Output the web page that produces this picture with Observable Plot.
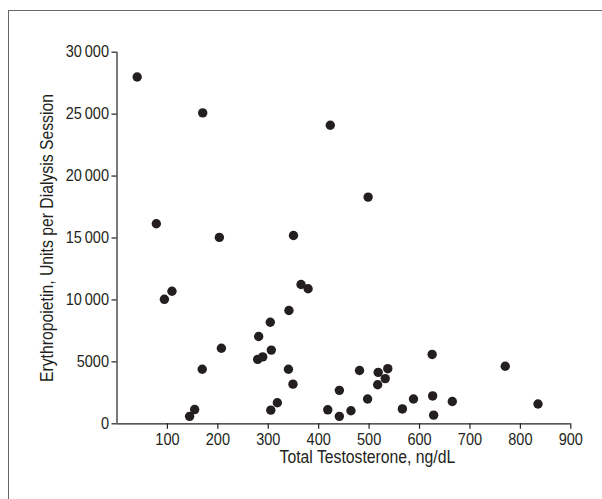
<!DOCTYPE html>
<html>
<head>
<meta charset="utf-8">
<script src="https://cdn.jsdelivr.net/npm/d3@7"></script>
<script src="https://cdn.jsdelivr.net/npm/@observablehq/plot@0.6"></script>
<style>
  html, body { margin: 0; padding: 0; background: #fff; }
  #wrap { position: relative; width: 602px; height: 499px; overflow: hidden; }
  #frame { position: absolute; left: 7.5px; top: 9.5px; width: 700px; height: 600px;
           border-left: 1.8px solid #666; border-top: 1.8px solid #666; pointer-events: none; }
</style>
</head>
<body>
<div id="wrap"><div id="frame"></div><div id="chart"></div></div>
<script>
// Total testosterone (ng/dL)
const testosterone = [40, 170, 423, 498, 78, 203, 350,
  94, 109, 365, 379, 341, 304, 281, 207, 306, 279, 289, 169, 340, 349, 318, 305, 154, 144, 441, 418, 441,
  481, 518, 537, 532, 517, 497, 464, 566, 588, 625, 626, 628, 665, 770, 835];
// Erythropoietin (units per dialysis session)
const erythropoietin = [28000, 25100, 24100, 18300, 16150, 15050, 15200,
  10050, 10700, 11250, 10900, 9150, 8200, 7050, 6100, 5950, 5200, 5400, 4400, 4400, 3200, 1700, 1100, 1150, 600, 2700, 1130, 600,
  4300, 4150, 4450, 3650, 3150, 2000, 1050, 1200, 2000, 5600, 2250, 700, 1800, 4650, 1600];
const xTicks = [100, 200, 300, 400, 500, 600, 700, 800, 900];
const yTicks = [0, 5000, 10000, 15000, 20000, 25000, 30000];
const xLabel = "Total Testosterone, ng/dL";
const yLabel = "Erythropoietin, Units per Dialysis Session";

const data = testosterone.map((t, i) => ({t, e: erythropoietin[i]}));
const fmt = d => d >= 10000 ? d3.format(",")(d).replace(",", "\u2009") : String(d);
const ink = "#231f20";

const chart = Plot.plot({
  width: 602,
  height: 499,
  marginLeft: 116.5,
  marginRight: 31.7,
  marginTop: 51.7,
  marginBottom: 75.7,
  style: {fontFamily: "'Liberation Sans', Arial, sans-serif", fontSize: "16.5px", color: ink, background: "transparent"},
  x: {domain: [0, 900]},
  y: {domain: [0, 30000]},
  marks: [
    Plot.ruleY([0], {stroke: ink, strokeWidth: 1.2}),
    Plot.ruleX([0], {stroke: ink, strokeWidth: 1.2}),
    Plot.axisX({ticks: xTicks, tickSize: 5.5, tickPadding: 4, label: null, fontSize: 16.5, stroke: ink, strokeWidth: 1.2}),
    Plot.axisY({ticks: yTicks, tickSize: 5, tickPadding: 3, tickFormat: fmt, label: null, fontSize: 16.5, stroke: ink, strokeWidth: 1.2}),
    Plot.dot(data, {x: "t", y: "e", r: 4.7, fill: ink, stroke: "none"}),
    Plot.text([xLabel], {frameAnchor: "bottom", textAnchor: "middle", dx: 23.5, dy: 39, text: d => d, fontSize: 17.5, fill: ink, className: "axis-title"}),
    Plot.text([yLabel], {frameAnchor: "left", textAnchor: "middle", dx: -69.5, rotate: -90, text: d => d, fontSize: 17.5, fill: ink, className: "axis-title"})
  ]
});
document.getElementById("chart").appendChild(chart);
// condense glyphs horizontally to mimic a condensed sans face
chart.querySelectorAll("text").forEach(t => {
  const len = t.getComputedTextLength();
  const ratio = t.closest(".axis-title") ? 0.9 : 0.88;
  if (len > 0) {
    t.setAttribute("textLength", (len * ratio).toFixed(2));
    t.setAttribute("lengthAdjust", "spacingAndGlyphs");
  }
});
</script>
</body>
</html>
